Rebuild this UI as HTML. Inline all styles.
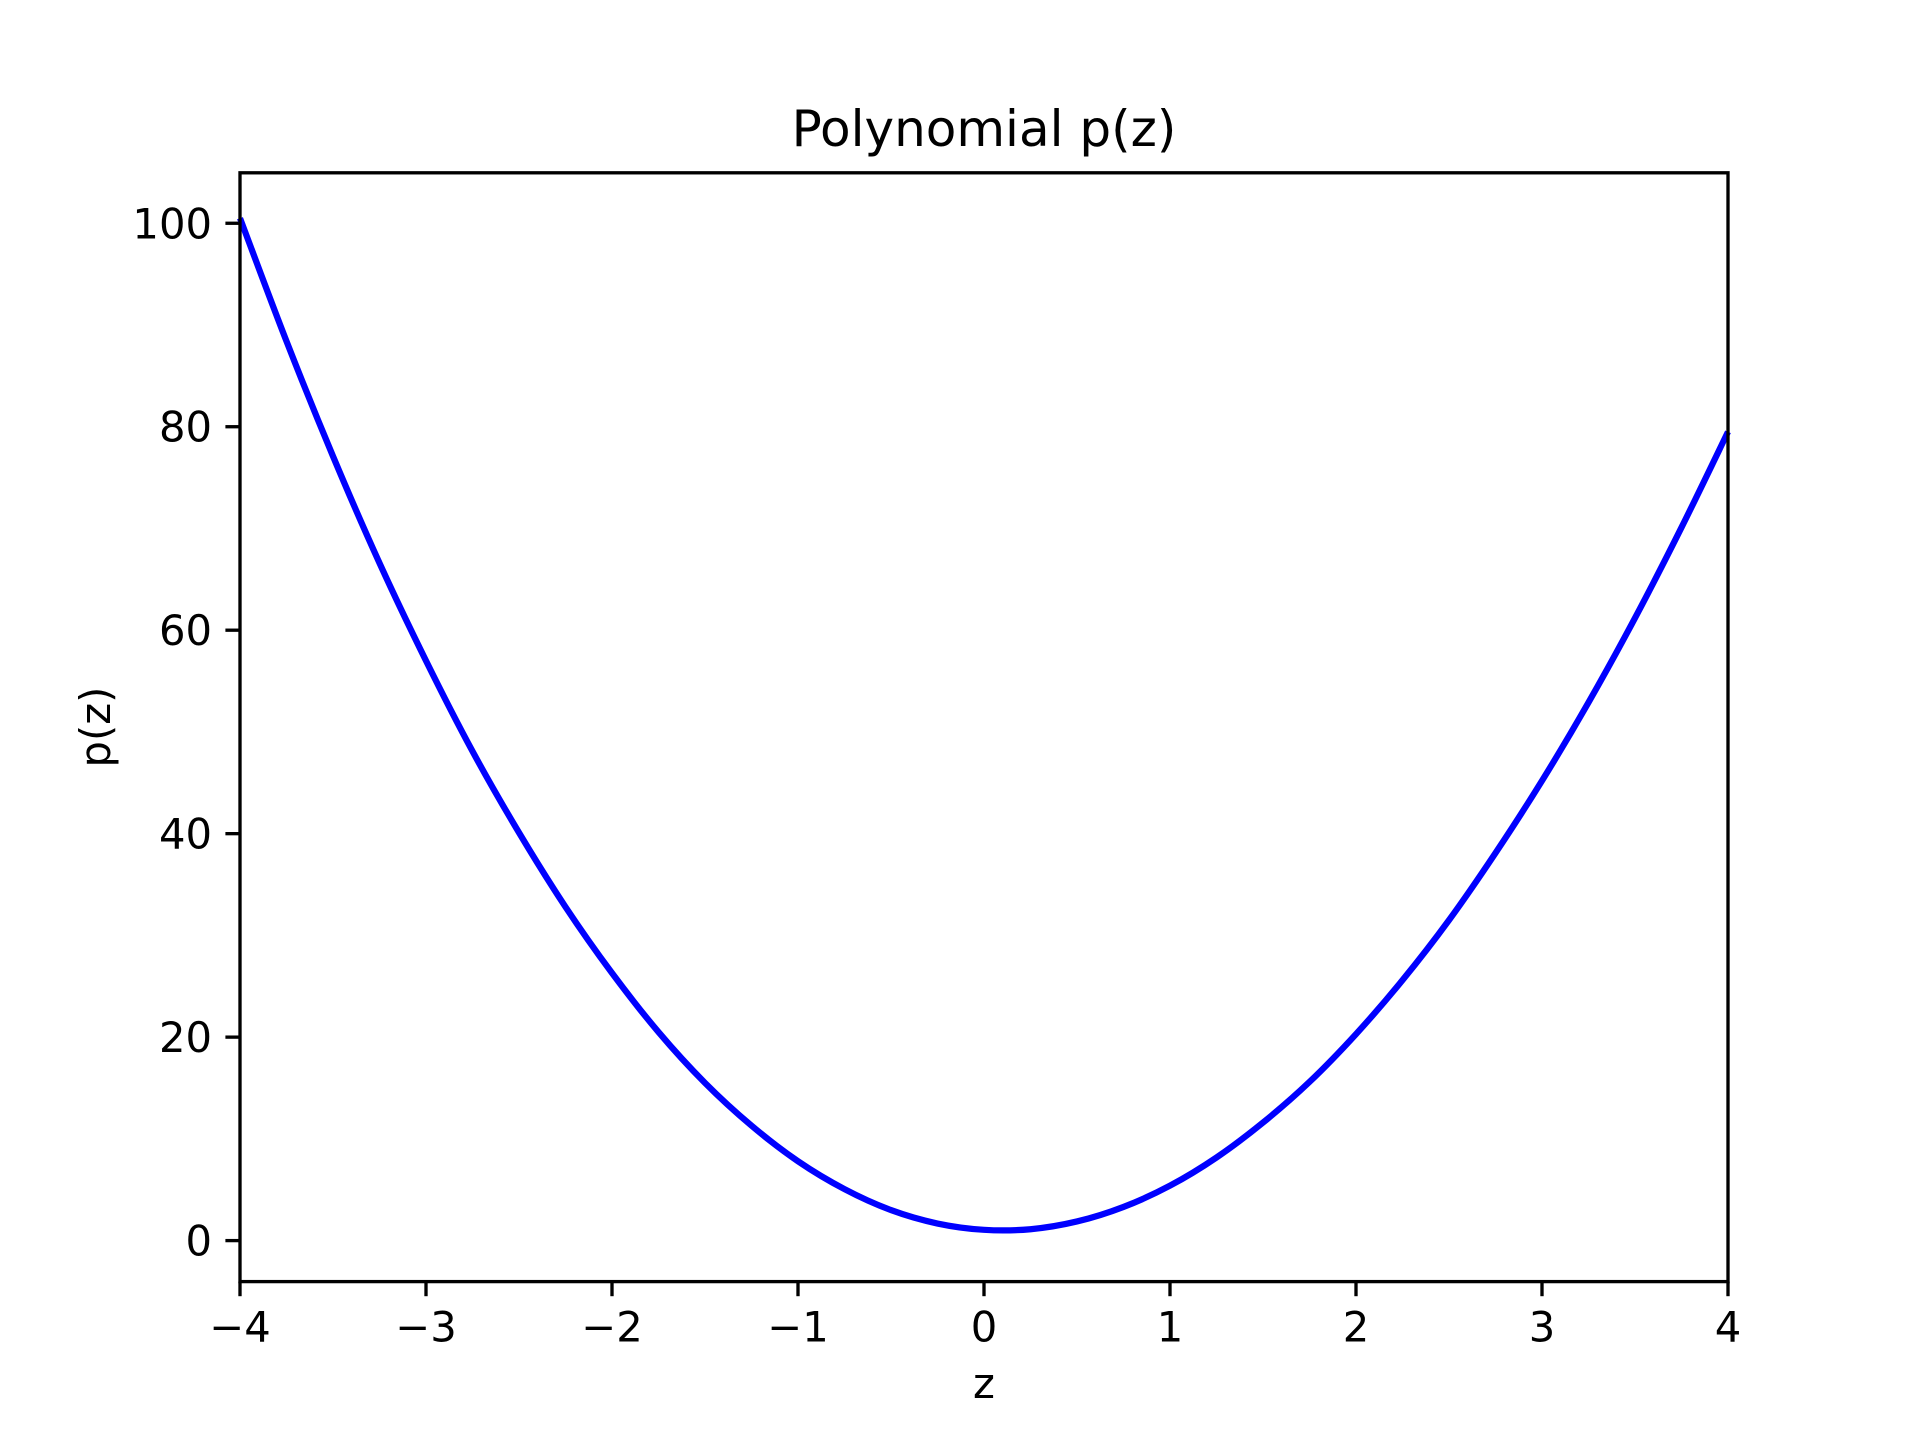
<!DOCTYPE html>
<html><head><meta charset="utf-8"><style>
html,body{margin:0;padding:0;background:#fff;}
svg{display:block;font-family:"DejaVu Sans","Liberation Sans",sans-serif;}
</style></head><body>
<svg id="chart" width="1920" height="1440" viewBox="0 0 1920 1440" xmlns="http://www.w3.org/2000/svg">
<rect width="1920" height="1440" fill="#fff"/>
<text x="984" y="146" font-size="50" text-anchor="middle">Polynomial p(z)</text>
<g id="ticks"></g>
<path id="curve" fill="none" stroke="#0000ff" stroke-width="6.25" stroke-linejoin="round"/>
<rect x="240" y="172.8" width="1488" height="1108.8" fill="none" stroke="#000" stroke-width="3.33"/>
<text x="984" y="1398" font-size="41.7" text-anchor="middle">z</text>
<text x="0" y="0" font-size="41.7" text-anchor="middle" transform="translate(110,727) rotate(-90)">p(z)</text>
</svg>
<script>
const zValues = [-4,-3.75,-3.5,-3.25,-3,-2.75,-2.5,-2.25,-2,-1.75,-1.5,-1.25,-1,-0.75,-0.5,-0.25,0,0.25,0.5,0.75,1,1.25,1.5,1.75,2,2.25,2.5,2.75,3,3.25,3.5,3.75,4];
const pValues = [100.5,88.4,77.1,66.6,57.0,48.1,40.1,32.8,26.3,20.5,15.5,11.3,7.8,5.06,3.0,1.68,1.06,1.12,1.88,3.31,5.4,8.17,11.6,15.6,20.3,25.6,31.5,38.1,45.2,52.9,61.2,70.1,79.5];
const xTicks = [-4,-3,-2,-1,0,1,2,3,4];
const yTicks = [0,20,40,60,80,100];
const xMin=-4,xMax=4,yMin=-4.03,yMax=104.96;
const L=240,R=1728,T=172.8,B=1281.6;
function sx(v){return L+(v-xMin)/(xMax-xMin)*(R-L);}
function sy(v){return B-(v-yMin)/(yMax-yMin)*(B-T);}
const NS='http://www.w3.org/2000/svg';
const pts=zValues.map((z,i)=>[sx(z),sy(pValues[i])]);
let d='M'+pts[0][0]+','+pts[0][1];
for(let i=0;i<pts.length-1;i++){
  const p0=pts[Math.max(0,i-1)],p1=pts[i],p2=pts[i+1],p3=pts[Math.min(pts.length-1,i+2)];
  const c1=[p1[0]+(p2[0]-p0[0])/6,p1[1]+(p2[1]-p0[1])/6];
  const c2=[p2[0]-(p3[0]-p1[0])/6,p2[1]-(p3[1]-p1[1])/6];
  d+=' C'+c1[0]+','+c1[1]+' '+c2[0]+','+c2[1]+' '+p2[0]+','+p2[1];
}
document.getElementById('curve').setAttribute('d',d);
const g=document.getElementById('ticks');
function fmt(v){return v<0?'\u2212'+Math.abs(v):String(v);}
xTicks.forEach(v=>{
  const x=sx(v);
  const ln=document.createElementNS(NS,'line');
  ln.setAttribute('x1',x);ln.setAttribute('x2',x);ln.setAttribute('y1',B);ln.setAttribute('y2',B+14.6);
  ln.setAttribute('stroke','#000');ln.setAttribute('stroke-width','3.33');
  
  
  g.appendChild(ln);
  const t=document.createElementNS(NS,'text');
  t.setAttribute('x',x);t.setAttribute('y',B+60);t.setAttribute('font-size','41.7');t.setAttribute('text-anchor','middle');
  t.textContent=fmt(v);
  
  
  g.appendChild(t);
});
yTicks.forEach(v=>{
  const y=sy(v);
  const ln=document.createElementNS(NS,'line');
  ln.setAttribute('x1',L-14.6);ln.setAttribute('x2',L);ln.setAttribute('y1',y);ln.setAttribute('y2',y);
  ln.setAttribute('stroke','#000');ln.setAttribute('stroke-width','3.33');
  
  
  g.appendChild(ln);
  const t=document.createElementNS(NS,'text');
  t.setAttribute('x',L-28);t.setAttribute('y',y+15);t.setAttribute('font-size','41.7');t.setAttribute('text-anchor','end');
  t.textContent=fmt(v);
  
  
  g.appendChild(t);
});
</script>
</body></html>
